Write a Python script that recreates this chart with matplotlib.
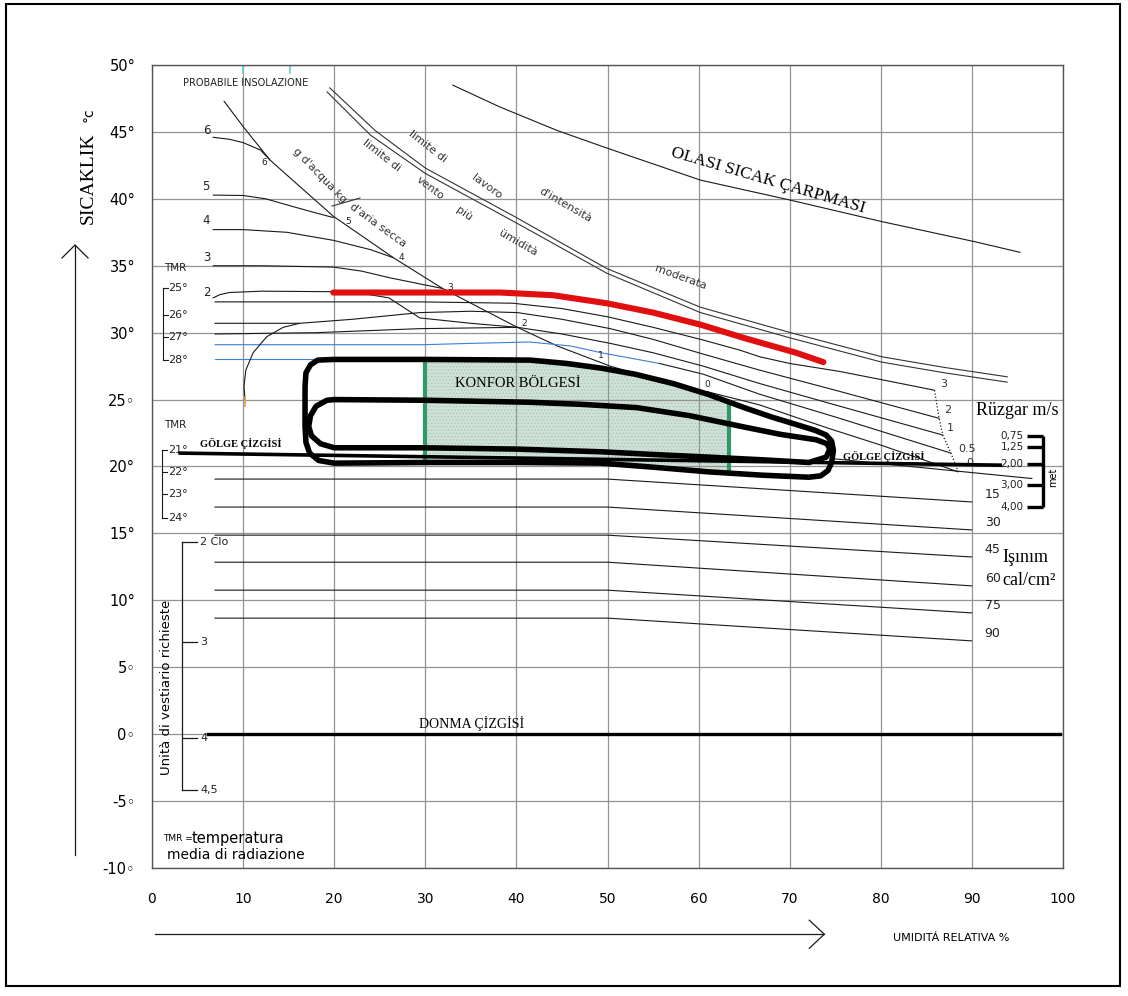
import matplotlib
matplotlib.use('Agg')
import matplotlib.pyplot as plt
from matplotlib.patches import Rectangle, Polygon

# ---------------- data ----------------
x_ticks = [0, 10, 20, 30, 40, 50, 60, 70, 80, 90, 100]
y_ticks = [-10, -5, 0, 5, 10, 15, 20, 25, 30, 35, 40, 45, 50]
y_tick_labels = ['-10◦', '-5◦', '0◦', '5◦', '10°', '15°', '20°', '25◦',
                 '30°', '35°', '40°', '45°', '50°']

# heat stroke line
olasi_x = [33.0, 38.2, 44.5, 49.9, 60.2, 70.1, 80.1, 90.3, 95.3]
olasi_y = [48.5, 46.86, 45.1, 43.8, 41.4, 39.9, 38.3, 36.8, 36.0]

# limit lines (double line)
lavoro_x = [19.5, 24.5, 30, 40, 49.9, 60.2, 70.1, 80.1, 87, 93.9]
lavoro_y = [48.3, 45.1, 42.3, 38.6, 34.8, 31.9, 30.0, 28.2, 27.4, 26.7]
vento_x = [19.2, 24.0, 30, 40, 49.9, 60.2, 70.1, 80.1, 87, 93.9]
vento_y = [48.0, 44.75, 41.9, 38.2, 34.45, 31.5, 29.6, 27.8, 27.0, 26.3]

# diagonal (g d'acqua / kg d'aria secca)
diag_x = [7.9, 10, 12.95, 19.9, 26.5, 31.9, 40.1, 44.5, 50.3, 53.0]
diag_y = [47.3, 45.4, 42.9, 38.7, 35.6, 33.3, 30.4, 29.0, 27.5, 26.95]

# vapour curves 6..2
v6_x = [6.7, 8.5, 10, 11.9, 12.95]
v6_y = [44.6, 44.45, 44.2, 43.65, 42.9]
v5_x = [6.7, 10, 12.5, 14.8, 17.7, 19.9]
v5_y = [40.28, 40.25, 40.0, 39.55, 39.0, 38.6]
v4_x = [6.7, 10, 14.8, 19.9, 24.0, 26.5]
v4_y = [37.7, 37.7, 37.5, 36.9, 36.2, 35.6]
v3_x = [6.7, 12, 19.9, 23, 26.1, 29, 31.9]
v3_y = [35.0, 35.0, 34.9, 34.6, 34.1, 33.7, 33.3]
v2_x = [6.7, 7.5, 8.5, 12, 22, 26, 29.4, 35, 40.1]
v2_y = [32.6, 32.85, 33.0, 33.1, 33.05, 32.6, 31.1, 30.7, 30.4]

# wind lines (m/s): 3, 2, 1, 0.5, 0
w3_x = [6.9, 20, 29.4, 39.6, 45, 49.9, 55, 60.5, 64.5, 66.7, 70, 75.5, 80, 85.9]
w3_y = [32.3, 32.3, 32.3, 32.2, 31.8, 31.2, 30.4, 29.45, 28.7, 28.2, 27.7, 27.1, 26.5, 25.7]
w2_x = [6.9, 16.2, 22, 29.4, 35, 40.1, 45, 50.3, 55, 60.5, 66.7, 75, 86.4]
w2_y = [30.7, 30.7, 31.0, 31.5, 31.6, 31.5, 31.0, 30.3, 29.5, 28.4, 27.2, 25.7, 23.6]
w1_x = [6.9, 18, 29.4, 40.1, 45, 50.3, 55, 60.5, 66.7, 75, 86.8]
w1_y = [29.9, 30.0, 30.3, 30.4, 29.9, 29.2, 28.5, 27.5, 26.2, 24.6, 22.35]
w05_blue_x = [6.9, 20, 29.7, 35, 41.5, 46, 49.3, 52.5, 55.7]
w05_blue_y = [29.1, 29.1, 29.1, 29.2, 29.3, 29.0, 28.5, 28.1, 27.7]
w05_x = [55.7, 60.5, 66.7, 75, 87.7]
w05_y = [27.7, 26.9, 25.4, 23.7, 21.0]
w0_x = [60.9, 66.7, 71, 74.5, 80, 88.5]
w0_y = [25.6, 24.6, 23.6, 22.8, 21.6, 19.6]
blue28_x = [6.9, 20]
blue28_y = [28.0, 28.0]
tail_x = [74.5, 84, 96.6]
tail_y = [20.6, 19.95, 19.1]
arc_x = [10.2, 10.1, 10.3, 11.1, 12.6, 14.4, 16.2]
arc_y = [25.0, 26.0, 27.2, 28.5, 29.7, 30.4, 30.7]

# dotted end curve of wind lines
dot_x = [85.9, 86.4, 86.8, 87.7, 88.5]
dot_y = [25.7, 23.6, 22.35, 21.0, 19.6]
wind_labels = ['3', '2', '1', '0.5', '0']
wind_lab_x = [86.5, 87.0, 87.3, 88.5, 89.4]
wind_lab_y = [26.2, 24.2, 22.9, 21.3, 20.25]

# upper limit (red)
red_x = [19.9, 38.2, 44, 49.9, 55, 60.2, 65, 70.7, 73.7]
red_y = [33.0, 33.0, 32.8, 32.2, 31.5, 30.6, 29.6, 28.5, 27.8]

# comfort zone outlines
outer_x = [18.2, 20, 30, 41.5, 45.5, 49.3, 53, 57.2, 61, 65, 68, 70.9, 72.8, 74.0, 74.6,
           74.8, 74.6, 74.2, 73.4, 72.1, 67, 61.1, 55, 49.3, 40, 30, 20, 18.3, 17.3,
           16.9, 16.8, 16.8, 16.9, 17.4]
outer_y = [27.95, 28.0, 28.0, 27.95, 27.7, 27.35, 26.9, 26.2, 25.4, 24.4, 23.7, 23.1, 22.7,
           22.35, 21.9, 21.2, 20.3, 19.7, 19.3, 19.2, 19.35, 19.6, 19.95, 20.25, 20.3,
           20.3, 20.25, 20.45, 21.0, 21.8, 23.0, 26.0, 27.0, 27.6]
inner_x = [19.2, 20, 30, 41.5, 47, 53.2, 59, 65, 69, 72.9, 74.1, 74.4, 74.0, 72.1, 67,
           61.1, 55, 49.3, 40, 29.7, 20, 18.5, 17.5, 17.2, 17.4, 18.0]
inner_y = [24.95, 25.0, 24.95, 24.8, 24.65, 24.4, 23.8, 22.95, 22.4, 22.0, 21.7, 21.3,
           20.7, 20.3, 20.5, 20.7, 20.9, 21.1, 21.3, 21.4, 21.4, 21.7, 22.3, 23.0, 23.8, 24.5]
green_x = [30.0, 63.3]
green_top = [27.95, 24.6]
green_bot = [20.25, 19.6]

golge_x = [3.1, 93.1]
golge_y = [21.0, 20.1]
donma_x = [6.1, 99.7]
donma_y = [0, 0]

# radiation lines
rad_labels = ['15', '30', '45', '60', '75', '90']
rad_left = [19.06, 16.97, 14.87, 12.85, 10.76, 8.67]
rad_right = [17.35, 15.26, 13.24, 11.08, 9.06, 6.97]
rad_x = [6.9, 50, 90]

# TMR scales
tmr_up_labels = ['25°', '26°', '27°', '28°']
tmr_up_y = [33.33, 31.3, 29.67, 27.95]
tmr_lo_labels = ['21°', '22°', '23°', '24°']
tmr_lo_y = [21.23, 19.58, 17.94, 16.14]

# clothing scale
clo_labels = ['2 Clo', '3', '4', '4,5']
clo_y = [14.35, 6.88, -0.3, -4.2]

# wind / met scale
met_labels = ['0,75', '1,25', '2,00', '3,00', '4,00']
met_y = [22.27, 21.45, 20.18, 18.6, 16.97]

# vapour labels
vap_left_labels = ['6', '5', '4', '3', '2']
vap_left_x = [6.0, 5.9, 5.9, 6.0, 6.0]
vap_left_y = [45.14, 40.9, 38.4, 35.58, 33.0]
vap_diag_labels = ['6', '5', '4', '3', '2', '1', '0']
vap_diag_x = [12.3, 21.5, 27.4, 32.7, 40.8, 49.3, 60.9]
vap_diag_y = [42.75, 38.27, 35.65, 33.4, 30.7, 28.3, 26.1]

# ---------------- figure ----------------
W, H = 1128, 996
plt.rcParams['hatch.linewidth'] = 0.5
fig = plt.figure(figsize=(W / 100, H / 100), dpi=100)
ax = fig.add_axes([152 / W, 1 - 868 / H, (1063 - 152) / W, (868 - 65) / H])
ax.set_xlim(0, 100)
ax.set_ylim(-10, 50)

SERIF = ['Liberation Serif', 'DejaVu Serif']
SANS = ['DejaVu Sans']
INK = '#1a1a1a'

ax.set_xticks(x_ticks)
ax.set_xticklabels([str(v) for v in x_ticks], fontsize=10, family=SANS)
ax.set_yticks(y_ticks)
ax.set_yticklabels(y_tick_labels, fontsize=10.5, family=SANS)
ax.tick_params(axis='both', length=0)
ax.tick_params(axis='x', pad=17)
ax.tick_params(axis='y', pad=12)
ax.grid(True, color='#939393', lw=0.9)
for s in ax.spines.values():
    s.set_color('#555555')
    s.set_linewidth(1.0)

def line(xs, ys, lw=0.8, color=INK, **kw):
    ax.plot(xs, ys, color=color, lw=lw, solid_joinstyle='round',
            solid_capstyle='round', **kw)

def txt(x, y, s, **kw):
    kw.setdefault('clip_on', False)
    ax.text(x, y, s, **kw)

# comfort zone fill (between the green lines)
fill = Polygon(list(zip(outer_x, outer_y)), closed=True, facecolor='#cfe1d7',
               edgecolor='#a8c5b7', hatch='.....', lw=0, zorder=1)
ax.add_patch(fill)
clip = Rectangle((green_x[0], -10), green_x[1] - green_x[0], 60,
                 transform=ax.transData, visible=False)
ax.add_patch(clip)
fill.set_clip_path(clip)

# thin chart lines
line(olasi_x, olasi_y)
line(lavoro_x, lavoro_y, color='#333333')
line(vento_x, vento_y, color='#333333')
line(diag_x, diag_y)
for xs, ys in [(v6_x, v6_y), (v5_x, v5_y), (v4_x, v4_y), (v3_x, v3_y), (v2_x, v2_y)]:
    line(xs, ys)
line(w3_x, w3_y)
line(w2_x, w2_y)
line(w1_x, w1_y)
line(w05_blue_x, w05_blue_y, color='#3b7fd6')
line(w05_x, w05_y)
line(w0_x, w0_y)
line(blue28_x, blue28_y, color='#3b7fd6')
line(tail_x, tail_y)
line(arc_x, arc_y)
ax.plot(dot_x, dot_y, color=INK, lw=0.9, ls=(0, (1, 1.6)))
for i in range(len(rad_left)):
    line(rad_x, [rad_left[i], rad_left[i], rad_right[i]])
    txt(91.4, rad_right[i] + 0.55, rad_labels[i], fontsize=9, family=SANS,
        color='#222222', va='center', ha='left')

# small marks at top
for xv in [10, 15.1]:
    ax.plot([xv, xv], [49.4, 50], color='#62d0d0', lw=1.2)
ax.plot([10.2, 10.2], [24.5, 25.2], color='#d8a048', lw=1.2)

# red upper limit
line(red_x, red_y, lw=4.4, color='#e01010')

# comfort outlines
ax.add_patch(Polygon(list(zip(outer_x, outer_y)), closed=True, fill=False,
                     ec='black', lw=4.0, joinstyle='round', zorder=3))
ax.add_patch(Polygon(list(zip(inner_x, inner_y)), closed=True, fill=False,
                     ec='black', lw=4.0, joinstyle='round', zorder=3))
for gx, gt, gb in zip(green_x, green_top, green_bot):
    ax.plot([gx, gx], [gb, gt], color='#2f9a68', lw=3.0, zorder=2.5)

# shadow and frost lines
ax.plot(golge_x, golge_y, color='black', lw=2.6, zorder=3.2)
ax.plot(donma_x, donma_y, color='black', lw=2.4, zorder=3)

# ---------------- texts ----------------
txt(3.4, 48.65, 'PROBABILE INSOLAZIONE', fontsize=7, family=SANS, color='#222',
    va='center', ha='left')
txt(67.6, 41.33, 'OLASI SICAK ÇARPMASI', fontsize=12.5, family=SERIF,
    rotation=-16.3, rotation_mode='anchor', ha='center', va='center')
small = dict(fontsize=8, family=SANS, color='#333333', ha='center', va='center',
             rotation_mode='anchor')
txt(30.3, 43.87, 'limite di', rotation=-38, **small)
txt(36.77, 40.88, 'lavoro', rotation=-36, **small)
txt(45.33, 39.54, "d'intensità", rotation=-30, **small)
txt(58.07, 34.16, 'moderata', rotation=-20, **small)
txt(25.25, 43.27, 'limite di', rotation=-38, **small)
txt(30.52, 40.81, 'vento', rotation=-37, **small)
txt(34.25, 38.86, 'più', rotation=-35, **small)
txt(40.18, 36.70, 'ümidità', rotation=-30, **small)
txt(18.44, 41.78, "g d'acqua kg", rotation=-46, **small)
txt(24.81, 38.04, "d'aria secca", rotation=-36, **small)
ax.plot([19.76, 22.83], [39.46, 40.06], color='#333333', lw=0.8)

for s, x, y in zip(vap_left_labels, vap_left_x, vap_left_y):
    txt(x, y, s, fontsize=8.5, family=SANS, color='#222', ha='center', va='center')
for s, x, y in zip(vap_diag_labels, vap_diag_x, vap_diag_y):
    txt(x, y, s, fontsize=6.5, family=SANS, color='#222', ha='center', va='center')
for s, x, y in zip(wind_labels, wind_lab_x, wind_lab_y):
    txt(x, y, s, fontsize=8, family=SANS, color='#333', ha='left', va='center')

txt(40.2, 26.2, 'KONFOR BÖLGESİ', fontsize=10.5, family=SERIF, ha='center', va='center',
    zorder=4)
txt(5.3, 21.75, 'GÖLGE ÇİZGİSİ', fontsize=7.5, family=SERIF, weight='bold',
    ha='left', va='center')
txt(75.9, 20.75, 'GÖLGE ÇİZGİSİ', fontsize=7.5, family=SERIF, weight='bold',
    ha='left', va='center')
txt(35.07, 0.82, 'DONMA ÇİZGİSİ', fontsize=10, family=SERIF, ha='center', va='center')

# TMR scales
txt(2.5, 34.83, 'TMR', fontsize=7.5, family=SANS, color='#222', ha='center', va='center')
ax.plot([1.2, 1.2], [tmr_up_y[0], tmr_up_y[-1]], color=INK, lw=0.8, clip_on=False)
for s, y in zip(tmr_up_labels, tmr_up_y):
    ax.plot([1.2, 1.75], [y, y], color=INK, lw=0.8, clip_on=False)
    txt(1.8, y, s, fontsize=8, family=SANS, color='#222', ha='left', va='center')
txt(2.6, 23.1, 'TMR', fontsize=7.5, family=SANS, color='#222', ha='center', va='center')
ax.plot([1.1, 1.1], [tmr_lo_y[0], tmr_lo_y[-1]], color=INK, lw=0.8, clip_on=False)
for s, y in zip(tmr_lo_labels, tmr_lo_y):
    ax.plot([1.1, 1.7], [y, y], color=INK, lw=0.8, clip_on=False)
    txt(1.75, y, s, fontsize=8, family=SANS, color='#222', ha='left', va='center')

# clothing scale
ax.plot([3.3, 3.3], [clo_y[0], clo_y[-1]], color=INK, lw=0.9)
for s, y in zip(clo_labels, clo_y):
    ax.plot([3.3, 4.9], [y, y], color=INK, lw=0.9)
    txt(5.3, y, s, fontsize=8, family=SANS, color='#222', ha='left', va='center')
txt(1.6, 3.5, 'Unità di vestiario richieste', fontsize=9.5, family=SANS, rotation=90,
    ha='center', va='center')
txt(1.2, -7.77, 'TMR =', fontsize=6.5, family=SANS, ha='left', va='center')
txt(4.3, -7.77, 'temperatura', fontsize=10.5, family=SANS, ha='left', va='center',
    weight='medium')
txt(1.65, -9.04, 'media di radiazione', fontsize=10, family=SANS, ha='left', va='center')

# wind scale
txt(90.4, 24.2, 'Rüzgar m/s', fontsize=13, family=SERIF, ha='left', va='center')
ax.plot([97.8, 97.8], [met_y[0], met_y[-1]], color='black', lw=2.4,
        solid_capstyle='butt')
for s, y in zip(met_labels, met_y):
    ax.plot([96.0, 97.8], [y, y], color='black', lw=2.4, solid_capstyle='butt')
    txt(94.4, y, s, fontsize=7.5, family=SANS, color='#222', ha='center', va='center')
txt(98.9, 19.2, 'met', fontsize=7, family=SANS, rotation=90, ha='center', va='center')
txt(93.3, 13.23, 'Işınım', fontsize=13, family=SERIF, ha='left', va='center')
txt(93.3, 11.5, 'cal/cm²', fontsize=13, family=SERIF, ha='left', va='center')

# axis titles & arrows
txt(-7.0, 41.55, 'SICAKLIK', fontsize=14, family=SERIF, rotation=90,
    ha='center', va='center')
txt(-7.0, 46.3, '°c', fontsize=10, family=SANS, rotation=90, ha='center', va='center')
ax.plot([-8.45, -8.45], [-9.0, 36.55], color=INK, lw=0.9, clip_on=False)
ax.plot([-9.88, -8.45, -7.02], [35.58, 36.55, 35.58], color=INK, lw=0.9, clip_on=False)
ax.plot([0.3, 73.8], [-14.95, -14.95], color=INK, lw=0.9, clip_on=False)
ax.plot([72.15, 73.8, 72.15], [-13.9, -14.95, -16.0], color=INK, lw=0.9, clip_on=False)
txt(81.3, -15.2, 'UMIDITÁ RELATIVA %', fontsize=8, family=SANS, ha='left', va='center')

# outer frame
fig.patches.append(Rectangle((6 / W, 1 - 986 / H), (1120 - 6) / W, (986 - 4) / H,
                             transform=fig.transFigure, fill=False, lw=1.5, ec='black'))

fig.savefig('out.png', dpi=100)
